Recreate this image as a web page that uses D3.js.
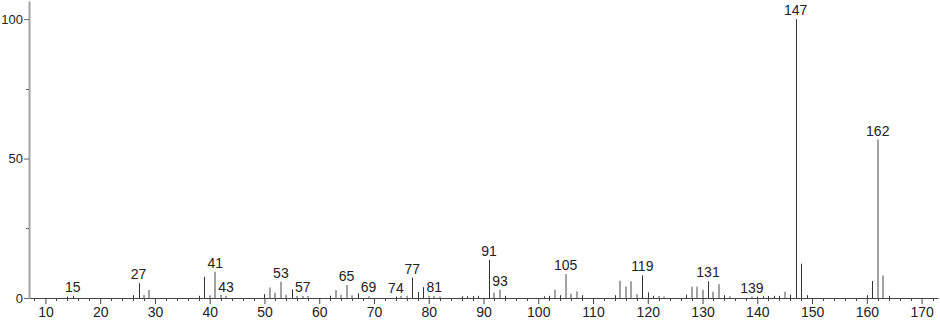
<!DOCTYPE html>
<html>
<head>
<meta charset="utf-8">
<script src="https://cdn.jsdelivr.net/npm/d3@7"></script>
<style>
  html, body { margin: 0; padding: 0; background: #fff; }
  svg { display: block; }
  text { font-family: "Liberation Sans", "DejaVu Sans", sans-serif; fill: #222; }
</style>
</head>
<body>
<svg id="chart" width="940" height="320"></svg>
<script>
// m/z and relative intensity, series A (dark peaks)
const darkMz  = [14, 15, 26, 27, 38, 39, 50, 55, 62, 67, 74, 77, 78, 79, 86, 87, 88, 89, 91, 94, 101, 102, 104, 108, 114, 119, 120, 121, 127, 131, 134, 140, 141, 142, 143, 144, 146, 147, 148, 149, 160, 161, 164];
const darkInt = [0.5, 0.8, 1.0, 5.3, 0.8, 7.6, 1.4, 3.1, 0.8, 1.7, 0.5, 7.3, 2.1, 3.9, 0.6, 0.6, 0.7, 0.8, 13.7, 0.8, 0.6, 0.8, 1.0, 1.0, 1.0, 8.1, 2.0, 0.8, 1.2, 6.0, 1.0, 0.5, 0.6, 0.7, 0.8, 0.8, 1.2, 100, 12.3, 1.0, 1.0, 6.1, 0.8];
// series B (grey peaks)
const greyMz  = [28, 29, 40, 41, 42, 43, 51, 52, 53, 54, 56, 57, 58, 63, 64, 65, 66, 69, 75, 76, 80, 81, 82, 92, 93, 103, 105, 106, 107, 115, 116, 117, 118, 122, 123, 128, 129, 130, 132, 133, 135, 139, 145, 162, 163];
const greyInt = [1.1, 2.9, 1.0, 9.4, 1.2, 0.8, 3.8, 1.9, 5.8, 1.2, 0.7, 0.7, 0.7, 2.9, 1.2, 4.7, 1.0, 0.6, 0.8, 0.8, 0.8, 0.7, 0.5, 2.0, 3.0, 3.0, 8.6, 1.5, 2.3, 6.2, 4.1, 6.0, 1.3, 0.7, 0.5, 4.0, 4.0, 3.0, 2.2, 4.9, 0.6, 0.5, 2.2, 56.8, 8.1];
// labelled peaks
const labelMz = [15, 27, 41, 43, 53, 57, 65, 69, 74, 77, 81, 91, 93, 105, 119, 131, 139, 147, 162];
// axis ticks
const xTickValues = [10, 20, 30, 40, 50, 60, 70, 80, 90, 100, 110, 120, 130, 140, 150, 160, 170];
const yTickValues = [0, 50, 100];

const svg = d3.select("#chart");
const x = d3.scaleLinear().domain([7, 173]).range([29, 938]);
const y = d3.scaleLinear().domain([0, 106.5]).range([298, 1]);

const dark = darkMz.map((m, i) => ({ mz: m, v: darkInt[i] }));
const grey = greyMz.map((m, i) => ({ mz: m, v: greyInt[i] }));
const all = dark.concat(grey);
const lookup = new Map(all.map(d => [d.mz, d.v]));

// x axis minor ticks
const minor = d3.range(8, 173, 2).filter(v => v % 10 !== 0);
svg.append("g").selectAll("line").data(minor).join("line")
  .attr("x1", d => Math.round(x(d)) + 0.5).attr("x2", d => Math.round(x(d)) + 0.5)
  .attr("y1", y(0)).attr("y2", y(0) + 3)
  .attr("stroke", "#444").attr("stroke-width", 1);

// x axis
const xAxis = d3.axisBottom(x).tickValues(xTickValues).tickSize(6).tickPadding(3).tickSizeOuter(0);
const gx = svg.append("g").attr("transform", `translate(0,${y(0)})`).call(xAxis);
gx.select(".domain").attr("stroke", "#444");
gx.selectAll(".tick line").attr("stroke", "#444");
gx.selectAll("text").attr("font-size", 14).style("font-family", "Liberation Sans, DejaVu Sans, sans-serif").attr("fill", "#222");

// bars (grey first, dark on top)
svg.append("g").selectAll("line").data(grey).join("line")
  .attr("x1", d => Math.round(x(d.mz))).attr("x2", d => Math.round(x(d.mz)))
  .attr("y1", y(0)).attr("y2", d => y(d.v))
  .attr("stroke", "#a3a3a3").attr("stroke-width", 2);
svg.append("g").selectAll("line").data(dark).join("line")
  .attr("x1", d => Math.round(x(d.mz)) + 0.5).attr("x2", d => Math.round(x(d.mz)) + 0.5)
  .attr("y1", y(0)).attr("y2", d => y(d.v))
  .attr("stroke", "#333").attr("stroke-width", 1);

// y axis
const yAxis = d3.axisLeft(y).tickValues(yTickValues).tickSize(5).tickPadding(1).tickSizeOuter(0);
const gy = svg.append("g").attr("transform", `translate(29,0)`).call(yAxis);
gy.select(".domain").attr("stroke", "#a3a3a3").attr("stroke-width", 2);
gy.selectAll(".tick line").attr("stroke", "#666");
gy.selectAll("text").attr("font-size", 13).style("font-family", "Liberation Sans, DejaVu Sans, sans-serif").attr("fill", "#222");
svg.append("g").selectAll("line").data([25, 75]).join("line")
  .attr("x1", 26).attr("x2", 29)
  .attr("y1", d => Math.round(y(d)) + 0.5).attr("y2", d => Math.round(y(d)) + 0.5)
  .attr("stroke", "#666");

// peak labels
svg.append("g").selectAll("text").data(labelMz).join("text")
  .attr("x", d => x(d))
  .attr("y", d => y(lookup.get(d) || 0) - 4)
  .attr("text-anchor", "middle")
  .attr("font-size", 14)
  .text(d => d);
</script>
</body>
</html>
